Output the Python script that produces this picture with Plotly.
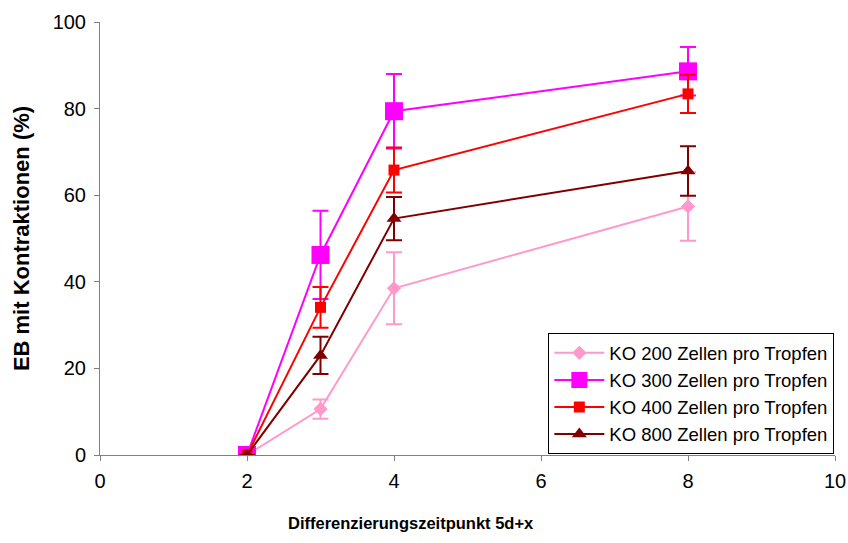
import plotly.graph_objects as go

# Differentiation time point (days after 5d) and share of EBs with contractions (%)
x_days = [2, 3, 4, 8]

series_names = [
    "KO 200 Zellen pro Tropfen",
    "KO 300 Zellen pro Tropfen",
    "KO 400 Zellen pro Tropfen",
    "KO 800 Zellen pro Tropfen",
]

ko200_mean = [0, 10.6, 38.5, 57.4]
ko200_err = [0, 2.2, 8.3, 7.9]

ko300_mean = [0, 46.2, 79.4, 88.6]
ko300_err = [0, 10.2, 8.6, 5.6]

ko400_mean = [0, 34.1, 65.8, 83.4]
ko400_err = [0, 4.7, 5.2, 4.4]

ko800_mean = [0, 23.0, 54.6, 65.6]
ko800_err = [0, 4.3, 5.0, 5.7]

x_ticks = [0, 2, 4, 6, 8, 10]
y_ticks = [0, 20, 40, 60, 80, 100]

x_title = "Differenzierungszeitpunkt 5d+x"
y_title = "EB mit Kontraktionen (%)"

styles = [
    dict(color="#FF99CC", symbol="diamond", size=11),
    dict(color="#FF00FF", symbol="square", size=18),
    dict(color="#FF0000", symbol="square", size=11),
    dict(color="#800000", symbol="triangle-up", size=13),
]

means = [ko200_mean, ko300_mean, ko400_mean, ko800_mean]
errs = [ko200_err, ko300_err, ko400_err, ko800_err]

fig = go.Figure()
for name, m, e, st in zip(series_names, means, errs, styles):
    fig.add_trace(go.Scatter(
        x=x_days, y=m, name=name, mode="lines+markers",
        line=dict(color=st["color"], width=2),
        marker=dict(color=st["color"], symbol=st["symbol"], size=st["size"],
                    line=dict(width=0)),
        error_y=dict(type="data", array=e, visible=True,
                     color=st["color"], thickness=2, width=8),
    ))

fig.update_layout(
    width=848, height=543,
    margin=dict(l=100, r=13, t=22, b=88),
    paper_bgcolor="white", plot_bgcolor="white",
    font=dict(family="Liberation Sans, Arial, sans-serif", color="black"),
    showlegend=True,
    legend=dict(
        x=0.61, y=0.281, xanchor="left", yanchor="top",
        bordercolor="black", borderwidth=1, bgcolor="white",
        font=dict(size=18.5, color="black"),
        tracegroupgap=0, itemwidth=50,
    ),
)

# x-axis title sits slightly left of the plot centre
fig.add_annotation(
    text=f"<b>{x_title}</b>", xref="paper", yref="paper",
    x=0.423, y=-0.157, xanchor="center", yanchor="middle",
    showarrow=False, font=dict(size=16.5, color="black"),
)

fig.update_xaxes(
    range=[0, 10], tickvals=x_ticks, showgrid=False, zeroline=False,
    showline=True, linecolor="#808080", linewidth=1, automargin=False,
    ticks="outside", ticklen=5, tickcolor="#808080", ticklabelstandoff=3,
    tickfont=dict(size=20),
)
fig.update_yaxes(
    range=[0, 100], tickvals=y_ticks, showgrid=False, zeroline=False,
    showline=True, linecolor="#808080", linewidth=1, automargin=False,
    ticks="outside", ticklen=5, tickcolor="#808080", ticklabelstandoff=4,
    tickfont=dict(size=20),
    title=dict(text=f"<b>{y_title}</b>", font=dict(size=22), standoff=16),
)

fig.write_html("out.html")
